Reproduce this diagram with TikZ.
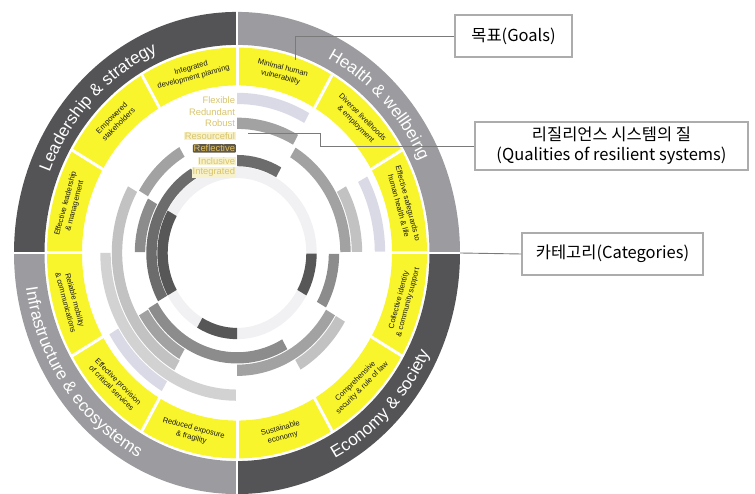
\documentclass[tikz,border=0pt]{standalone}
\usepackage{fontspec}
\setmainfont{Liberation Sans}
\newfontfamily\krfont{Noto Sans CJK KR}
\usetikzlibrary{decorations.text}
\definecolor{catdark}{HTML}{545457}
\definecolor{catlight}{HTML}{9C9CA0}
\definecolor{goalyellow}{HTML}{F9F52C}
\definecolor{qlav}{HTML}{DADAE6}
\definecolor{qlg}{HTML}{C2C2C2}
\definecolor{qlgb}{HTML}{D2D2D2}
\definecolor{qmg}{HTML}{A2A2A2}
\definecolor{qg}{HTML}{8C8C8C}
\definecolor{qdg}{HTML}{6C6C6C}
\definecolor{qvdg}{HTML}{575757}
\definecolor{qfaint}{HTML}{F1F1F3}
\definecolor{labgold}{HTML}{D8C46A}
\definecolor{labfill}{HTML}{F8F2CC}
\definecolor{refbg}{HTML}{5E584A}
\definecolor{refgold}{HTML}{E6C25A}
\definecolor{linegray}{HTML}{7A7A7A}
\newcommand\annsec[5]{\fill[#5] (#1:#4pt) arc[start angle=#1,end angle=#2,radius=#4pt] -- (#2:#3pt) arc[start angle=#2,end angle=#1,radius=#3pt] -- cycle;}
\newcommand\qarc[4]{\annsec{#1}{#2}{\fpeval{#3-5.2}}{\fpeval{#3+5.2}}{#4}}
\newcommand\catfmt{\fontsize{17}{20}\selectfont\color{white}}
\tikzset{
  goaltext/.style={font=\fontsize{7.6}{9.5}\selectfont, align=center, inner sep=0pt, text=black!90},
  qlab/.style={font=\fontsize{9.4}{10}\selectfont, text=labgold, inner sep=0.8pt, anchor=east},
  qlabhi/.style={qlab, fill=labfill},
  callout/.style={draw=gray!65, line width=1.1pt, fill=white, align=center, text=black, font=\krfont\fontsize{16.5}{20}\selectfont},
  conn/.style={draw=linegray, line width=0.9pt},
  cattext/.style={decorate, decoration={text along path, text align=center, text={#1}}}
}
\begin{document}
\begin{tikzpicture}[x=1pt,y=1pt]
\useasboundingbox (-237,-241) rectangle (518,253);
\begin{scope}[yscale=1.081]
  % category ring
  \annsec{0}{90}{192.5}{223}{catlight}
  \annsec{90}{180}{192.5}{223}{catdark}
  \annsec{180}{270}{192.5}{223}{catlight}
  \annsec{270}{360}{192.5}{223}{catdark}
  % goal ring
  \annsec{0}{360}{155}{190}{goalyellow}
  \foreach \a in {0,30,...,330} \draw[white, line width=3pt] (\a:150pt) -- (\a:191pt);
  \foreach \a in {0,90,180,270} \draw[white, line width=2pt] (\a:189pt) -- (\a:226pt);
  % quality rings
  \qarc{0}{360}{74.5}{qfaint}
  \qarc{60.8}{90}{143}{qlav}
  \qarc{60.8}{90}{120}{qmg}
  \qarc{60.8}{90}{85.5}{qdg}
  \qarc{0.5}{59}{108.5}{qmg}
  \qarc{0.5}{29.5}{120}{qlg}
  \qarc{0.5}{28.5}{143}{qlav}
  \qarc{-29.5}{-0.5}{74.5}{qvdg}
  \qarc{-29.5}{-0.5}{97}{qg}
  \qarc{-90}{-30.5}{108.5}{qmg}
  \qarc{-59.5}{-30.5}{120}{qlg}
  \qarc{-150}{-60.5}{97}{qg}
  \qarc{-120}{-90}{74.5}{qvdg}
  \qarc{150.5}{240}{120}{qlg}
  \qarc{180}{269.5}{131.5}{qlgb}
  \qarc{210.5}{239.5}{143}{qlav}
  \qarc{210.5}{239.5}{108.5}{qmg}
  \qarc{150.5}{179.5}{97}{qg}
  \qarc{120.5}{209.5}{85.5}{qdg}
  \qarc{150.5}{209.5}{74.5}{qvdg}
  \qarc{120.5}{149.5}{108.5}{qmg}
\end{scope}
% category labels
\path[cattext={|\catfmt|Leadership {\&} strategy}] (180:201.5pt and 217.8pt) arc[start angle=180,end angle=90,x radius=201.5pt,y radius=217.8pt];
\path[cattext={|\catfmt|Health {\&} wellbeing}] (90:201.5pt and 217.8pt) arc[start angle=90,end angle=0,x radius=201.5pt,y radius=217.8pt];
\path[cattext={|\catfmt|Economy {\&} society}] (-90:213.5pt and 230.8pt) arc[start angle=-90,end angle=0,x radius=213.5pt,y radius=230.8pt];
\path[cattext={|\catfmt|Infrastructure {\&} ecosystems}] (176:213.5pt and 230.8pt) arc[start angle=176,end angle=256,x radius=213.5pt,y radius=230.8pt];
% goals
\node[goaltext, rotate=15] (g1) at (105:172.5pt and 186.5pt) {Integrated\\development planning};
\node[goaltext, rotate=-15] (g2) at (75:172.5pt and 186.5pt) {Minimal human\\vulnerability};
\node[goaltext, rotate=-45] (g3) at (45:172.5pt and 186.5pt) {Diverse livelihoods\\\& employment};
\node[goaltext, rotate=-75] (g4) at (15:172.5pt and 186.5pt) {Effective safeguards to\\human health \& life};
\node[goaltext, rotate=75] (g5) at (-15:172.5pt and 186.5pt) {Collective identity\\\& community support};
\node[goaltext, rotate=45] (g6) at (-45:172.5pt and 186.5pt) {Comprehensive\\security \& rule of law};
\node[goaltext, rotate=15] (g7) at (-75:172.5pt and 186.5pt) {Sustainable\\economy};
\node[goaltext, rotate=-15] (g8) at (-105:172.5pt and 186.5pt) {Reduced exposure\\\& fragility};
\node[goaltext, rotate=-45] (g9) at (-135:172.5pt and 186.5pt) {Effective provision\\of critical services};
\node[goaltext, rotate=-75] (g10) at (-165:172.5pt and 186.5pt) {Reliable mobility\\\& communications};
\node[goaltext, rotate=75] (g11) at (165:172.5pt and 186.5pt) {Effective leadership\\\& management};
\node[goaltext, rotate=45] (g12) at (135:172.5pt and 186.5pt) {Empowered\\stakeholders};
% quality labels
\node[qlab] (q1) at (-1,153) {Flexible};
\node[qlab] (q2) at (-1,141) {Redundant};
\node[qlab] (q3) at (-1,129.5) {Robust};
\node[qlabhi] (q4) at (-1,117) {Resourceful};
\node[qlab, fill=refbg, text=refgold, rounded corners=1pt] (q5) at (-1,104.5) {Reflective};
\node[qlabhi] (q6) at (-1,92) {Inclusive};
\node[qlabhi] (q7) at (-1,80.5) {Integrated};
% callout boxes
\node[callout, minimum width=117pt, minimum height=42pt] (gbox) at (276.5,217) {목표(Goals)};
\node[callout, minimum width=273pt, minimum height=48pt] (qbox) at (374.5,107) {리질리언스 시스템의 질\\(Qualities of resilient systems)};
\node[callout, minimum width=181pt, minimum height=42pt] (cbox) at (375.5,-1) {카테고리(Categories)};
\coordinate (gend) at (58,193);
\coordinate (qbend) at (83,120);
\coordinate (qend) at (11,120);
\coordinate (cend) at (223,0);
\draw[conn] (gbox.west) -| (gend);
\draw[conn] (qbox.west) -| (qbend) -- (qend);
\draw[conn] (cend) -- (cbox.west);
\end{tikzpicture}
\end{document}
